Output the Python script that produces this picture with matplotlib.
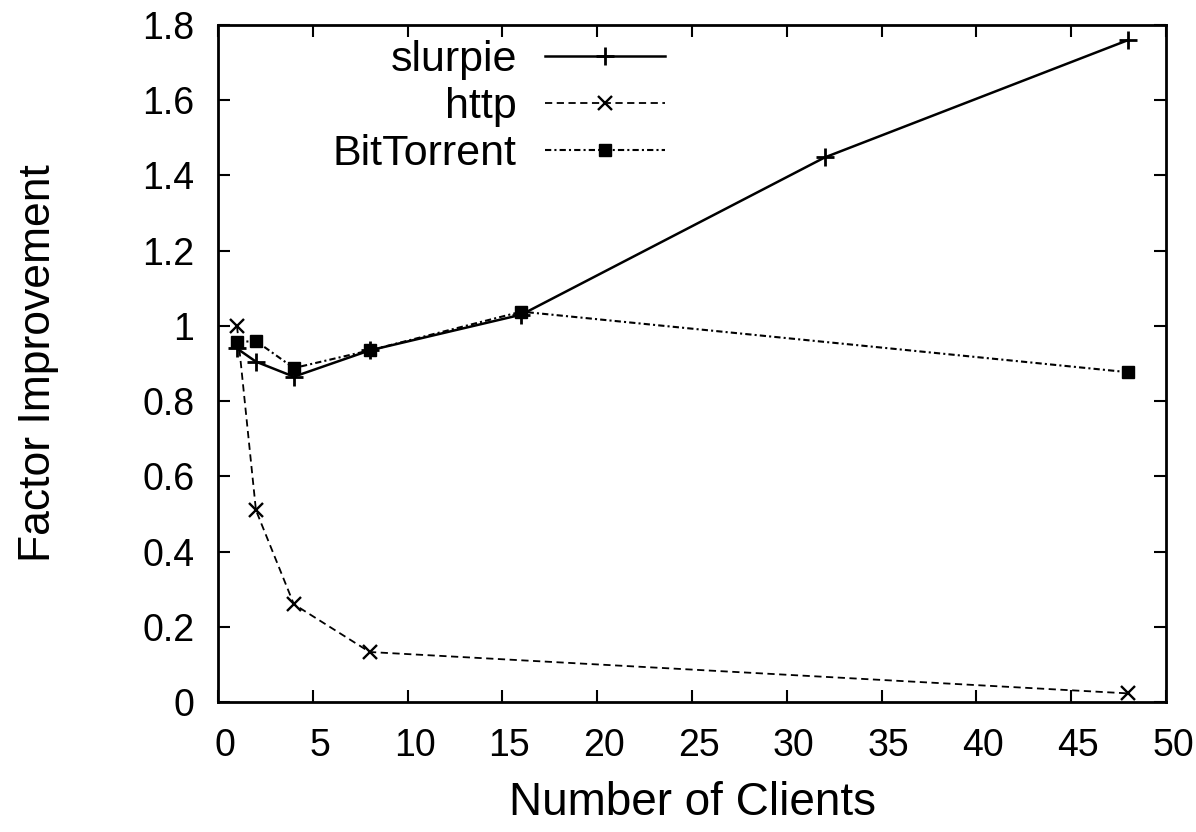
import matplotlib
matplotlib.use('Agg')
import matplotlib.pyplot as plt
import matplotlib.transforms as mtransforms

plt.rcParams['font.family'] = ['Liberation Sans', 'DejaVu Sans']

# factor improvement vs number of clients
slurpie_x = [1, 2, 4, 8, 16, 32, 48]
slurpie_y = [0.94, 0.905, 0.865, 0.935, 1.03, 1.448, 1.76]

http_x = [1, 2, 4, 8, 48]
http_y = [1.0, 0.51, 0.26, 0.133, 0.023]

bt_x = [1, 2, 4, 8, 16, 48]
bt_y = [0.957, 0.96, 0.888, 0.935, 1.038, 0.877]

fig = plt.figure(figsize=(11.96, 8.32), dpi=100)
ax = fig.add_axes([0.1823, 0.1562, 0.7926, 0.8137])

ax.plot(slurpie_x, slurpie_y, color='black', lw=1.8, ls='-',
        marker='+', ms=13, mew=2, label='slurpie')
ax.plot(http_x, http_y, color='black', lw=1.3, ls=(0, (4, 2.5)),
        marker='x', ms=10, mew=1.7, label='http')
ax.plot(bt_x, bt_y, color='black', lw=1.5, ls=(0, (3, 1.5, 1, 1.5)),
        marker='s', ms=8, label='BitTorrent')

ax.set_xlim(0, 50)
ax.set_ylim(0, 1.8)
ax.set_xticks(range(0, 51, 5))
ax.set_yticks([0, 0.2, 0.4, 0.6, 0.8, 1.0, 1.2, 1.4, 1.6, 1.8])
ax.set_yticklabels(['0', '0.2', '0.4', '0.6', '0.8', '1', '1.2', '1.4', '1.6', '1.8'])
ax.tick_params(direction='in', top=True, right=True, length=8.5, width=1.5,
               labelsize=27)
ax.tick_params(axis='x', pad=19)
ax.tick_params(axis='y', pad=17)
for s in ax.spines.values():
    s.set_linewidth(2)

# x tick labels sit a little right of their ticks
shift = mtransforms.ScaledTranslation(0.07, 0, fig.dpi_scale_trans)
for lbl in ax.get_xticklabels():
    lbl.set_transform(lbl.get_transform() + shift)

ax.set_xlabel('Number of Clients', fontsize=33, labelpad=12)
ax.set_ylabel('Factor Improvement', fontsize=32)
ax.yaxis.set_label_coords(-0.168, 0.5)

leg = ax.legend(loc='upper right', bbox_to_anchor=(0.476, 0.984), frameon=False,
                markerfirst=False, fontsize=31, handlelength=2.79,
                handletextpad=0.65, labelspacing=0.16, borderpad=0.1,
                borderaxespad=0)

fig.savefig('out.png', dpi=100)
